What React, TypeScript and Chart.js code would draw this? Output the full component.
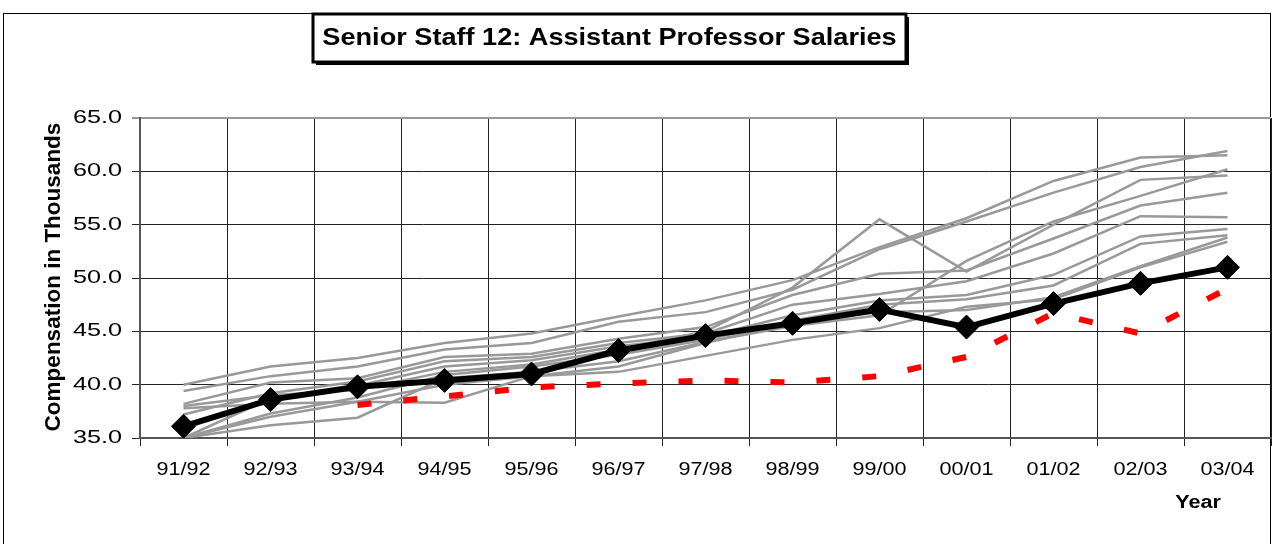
import React, { useEffect, useRef } from 'react';
import { Chart, registerables } from 'chart.js';

Chart.register(...registerables);

const categories = ['91/92', '92/93', '93/94', '94/95', '95/96', '96/97', '97/98', '98/99', '99/00', '00/01', '01/02', '02/03', '03/04'];
const yTickValues = [35, 40, 45, 50, 55, 60, 65];

// highlighted institution (black with diamonds)
const institution = [36.1, 38.6, 39.8, 40.4, 41.0, 43.2, 44.6, 45.75, 47.05, 45.4, 47.6, 49.5, 51.0];
// red dashed comparison line
const comparison = [null, null, 38.1, 38.9, 39.75, 40.1, 40.4, 40.2, 40.8, 42.6, 46.7, 44.8, 49.0];

// peer institutions (grey)
const peerA = [40.0, 41.7, 42.5, 43.9, 44.8, 46.4, 47.9, 49.8, 52.9, 55.6, 59.1, 61.3, 61.5];
const peerB = [39.4, 40.8, 41.7, 43.3, 43.9, 45.9, 46.8, 48.9, 52.7, 55.3, 58.0, 60.4, 61.9];
const peerC = [38.0, 39.0, 39.5, 41.2, 41.9, 43.3, 45.0, 49.1, 55.5, 50.6, 55.0, 59.2, 59.6];
const peerD = [38.2, 40.2, 40.6, 42.6, 42.9, 44.3, 45.4, 48.4, 50.4, 50.7, 53.7, 56.8, 58.0];
const peerE = [35.0, 36.2, 36.9, 40.6, 41.2, 42.2, 44.0, 45.5, 46.5, 51.6, 55.3, 57.7, 60.2];
const peerF = [37.2, 39.2, 40.3, 42.2, 42.6, 43.9, 44.8, 47.5, 48.5, 49.7, 52.3, 55.8, 55.7];
const peerG = [35.0, 38.7, 39.9, 41.7, 42.3, 43.6, 44.5, 46.5, 47.9, 48.4, 50.3, 53.9, 54.6];
const peerH = [35.0, 37.3, 38.8, 40.9, 41.7, 42.8, 44.2, 46.0, 47.5, 48.0, 49.3, 53.2, 54.0];
const peerI = [35.0, 37.0, 38.4, 40.0, 40.8, 41.7, 43.9, 45.9, 46.8, 47.0, 48.2, 51.1, 53.8];
const peerJ = [37.8, 38.2, 38.4, 38.3, 40.8, 41.2, 42.7, 44.2, 45.3, 47.3, 48.0, 51.0, 53.4];

const peers = [peerA, peerB, peerC, peerD, peerE, peerF, peerG, peerH, peerI, peerJ];

const titleText = 'Senior Staff 12: Assistant Professor Salaries';
const yTitleText = 'Compensation in Thousands';
const xTitleText = 'Year';

const FONT = '"Liberation Sans", Arial, sans-serif';
const W = 1273;
const H = 544;

function drawStretched(
  ctx: CanvasRenderingContext2D,
  text: string,
  x: number,
  y: number,
  font: string,
  sx: number,
  align: CanvasTextAlign
) {
  ctx.save();
  ctx.font = font;
  ctx.fillStyle = '#000';
  ctx.textBaseline = 'middle';
  ctx.textAlign = align;
  ctx.translate(x, y);
  ctx.scale(sx, 1);
  ctx.fillText(text, 0, 0);
  ctx.restore();
}

const decorPlugin = {
  id: 'decor',
  beforeDraw(chart: any) {
    const ctx = chart.ctx as CanvasRenderingContext2D;
    ctx.save();
    ctx.fillStyle = '#fff';
    ctx.fillRect(0, 0, chart.width, chart.height);
    ctx.strokeStyle = '#000';
    ctx.lineWidth = 1;
    ctx.strokeRect(3.5, 13.5, 1267, 600);
    ctx.restore();
  },
  afterDraw(chart: any) {
    const ctx = chart.ctx as CanvasRenderingContext2D;
    const xs = chart.scales.x;
    const ys = chart.scales.y;
    // y tick labels
    yTickValues.forEach((v) => {
      const py = ys.getPixelForValue(v);
      drawStretched(ctx, v.toFixed(1), 122, py, `18px ${FONT}`, 1.4, 'right');
    });
    // x tick labels
    categories.forEach((c, i) => {
      const px = xs.getPixelForValue(i);
      drawStretched(ctx, c, px, 470, `18px ${FONT}`, 1.2, 'center');
    });
    // x title
    drawStretched(ctx, xTitleText, 1198, 503, `bold 18px ${FONT}`, 1.2, 'center');
    // y title
    ctx.save();
    ctx.translate(54, 277);
    ctx.rotate(-Math.PI / 2);
    ctx.font = `bold 22.5px ${FONT}`;
    ctx.fillStyle = '#000';
    ctx.textAlign = 'center';
    ctx.textBaseline = 'middle';
    ctx.fillText(yTitleText, 0, 0);
    ctx.restore();
    // title box with shadow
    ctx.save();
    const bx = 313, by = 14, bw = 593, bh = 48;
    ctx.fillStyle = '#000';
    ctx.fillRect(bx + 3, by + 3, bw, bh);
    ctx.fillStyle = '#fff';
    ctx.fillRect(bx, by, bw, bh);
    ctx.strokeStyle = '#000';
    ctx.lineWidth = 3;
    ctx.strokeRect(bx, by, bw, bh);
    ctx.restore();
    drawStretched(ctx, titleText, bx + bw / 2, 38, `bold 24px ${FONT}`, 1.13, 'center');
  },
};

export default function App() {
  const ref = useRef<HTMLCanvasElement | null>(null);
  useEffect(() => {
    if (!ref.current) return;
    document.documentElement.style.overflow = 'hidden';
    document.body.style.overflow = 'hidden';
    const datasets: any[] = [
      {
        label: 'Institution',
        data: institution,
        borderColor: '#000',
        backgroundColor: '#000',
        borderWidth: 6,
        pointStyle: 'rectRot',
        pointRadius: 12,
        pointHoverRadius: 12,
        pointBorderWidth: 1,
        tension: 0,
      },
      {
        label: 'Comparison',
        data: comparison,
        borderColor: '#ff0000',
        borderWidth: 6,
        borderDash: [14, 32],
        pointRadius: 0,
        tension: 0,
        spanGaps: false,
      },
      ...peers.map((p, i) => ({
        label: 'Peer ' + (i + 1),
        data: p,
        borderColor: '#999999',
        borderWidth: 2.5,
        pointRadius: 0,
        tension: 0,
      })),
    ];
    const chart = new Chart(ref.current, {
      type: 'line',
      data: { labels: categories, datasets },
      options: {
        animation: false,
        responsive: false,
        maintainAspectRatio: false,
        devicePixelRatio: 1,
        events: [],
        layout: { autoPadding: false, padding: { left: 0, right: 2, top: 118, bottom: 0 } },
        plugins: {
          legend: { display: false },
          tooltip: { enabled: false },
          title: { display: false },
        },
        scales: {
          x: {
            type: 'category',
            offset: true,
            grid: {
              offset: true,
              color: '#222',
              lineWidth: 1,
              drawTicks: true,
              tickLength: 8,
            },
            border: { color: '#555', width: 2 },
            ticks: { display: false },
            afterFit: (s: any) => {
              s.height = 106;
            },
          },
          y: {
            min: 35,
            max: 65,
            ticks: { display: false, stepSize: 5 },
            grid: {
              color: (c: any) => (c.tick && c.tick.value === 65 ? '#999' : '#222'),
              lineWidth: (c: any) => (c.tick && c.tick.value === 65 ? 2 : 1),
              drawTicks: true,
              tickLength: 8,
            },
            border: { color: '#555', width: 2 },
            afterFit: (s: any) => {
              s.width = 140;
            },
          },
        },
      },
      plugins: [decorPlugin],
    });
    return () => chart.destroy();
  }, []);
  return (
    <div style={{ position: 'fixed', left: 0, top: 0, width: W, height: H, overflow: 'hidden', background: '#fff' }}>
      <canvas ref={ref} width={W} height={H} style={{ display: 'block', width: W, height: H }} />
    </div>
  );
}
